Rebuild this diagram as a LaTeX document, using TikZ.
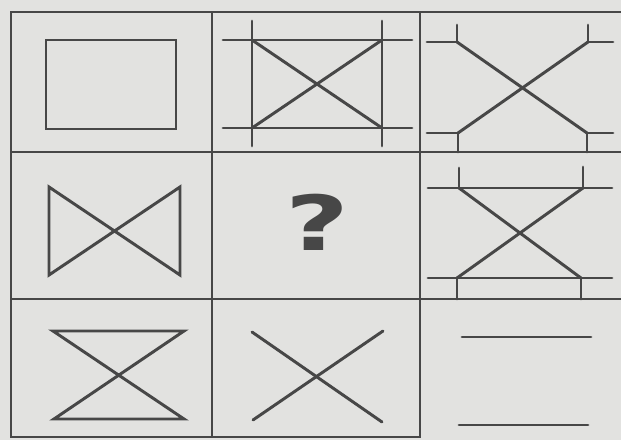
\documentclass[tikz,border=0pt]{standalone}
\usepackage{fontspec}
\usepackage{tikz}
\usetikzlibrary{positioning}
\newfontfamily\qfont{DejaVu Sans}
\definecolor{cPaper}{HTML}{E2E2E0}
\definecolor{cInk}{HTML}{474747}
\tikzset{
  gridln/.style={draw=cInk,line width=2.1pt,line cap=rect},
  figln/.style={draw=cInk,line width=2.1pt,line cap=round,line join=miter},
  qmk/.style={font=\qfont\bfseries\fontsize{54}{54}\selectfont,text=cInk,inner sep=0pt,xscale=1.45},
}

\begin{document}
\begin{tikzpicture}[x=0.025cm,y=-0.025cm]
    % paper (fixes the margins too)
    \fill[cPaper] (0,0) rectangle (621,440);
    \useasboundingbox (0,0) rectangle (621,440);
    % grid, open to the right, no bottom line under column 3
    \draw[gridln] (621,12) -- (11,12) -- (11,437) -- (420,437);
    \draw[gridln] (11,152) -- (621,152);
    \draw[gridln] (11,299) -- (621,299);
    \draw[gridln] (212,12) -- (212,437);
    \draw[gridln] (420,12) -- (420,437);
    % row 1
    \draw[figln] (46,40) rectangle (176,129);
    \draw[figln] (252,21) -- (252,146);
    \draw[figln] (382,21) -- (382,146);
    \draw[figln] (223,40) -- (412,40);
    \draw[figln] (223,128) -- (412,128);
    \draw[figln] (252,40) -- (382,128);
    \draw[figln] (382,40) -- (252,128);
    \draw[figln] (457,42) -- (587,133);
    \draw[figln] (588,42) -- (458,133);
    \draw[figln] (457,25) -- (457,42) -- (427,42);
    \draw[figln] (588,25) -- (588,42) -- (613,42);
    \draw[figln] (427,133) -- (458,133) -- (458,152);
    \draw[figln] (613,133) -- (587,133) -- (587,152);
    % row 2
    \draw[figln] (49,187) -- (180,275) -- (180,187) -- (49,275) -- cycle;
    \node[qmk] (qmark) at (317,222) {?};
    \draw[figln] (428,188) -- (612,188);
    \draw[figln] (428,278) -- (612,278);
    \draw[figln] (459,188) -- (581,278);
    \draw[figln] (583,188) -- (457,278);
    \draw[figln] (459,168) -- (459,188);
    \draw[figln] (583,167) -- (583,188);
    \draw[figln] (457,278) -- (457,299);
    \draw[figln] (581,278) -- (581,299);
    % row 3
    \draw[figln] (53,331) -- (184,331) -- (54,419) -- (184,419) -- cycle;
    \draw[figln] (252,332) -- (382,422);
    \draw[figln] (383,331) -- (253,420);
    \draw[figln] (462,337) -- (591,337);
    \draw[figln] (459,425) -- (588,425);
\end{tikzpicture}
\end{document}
